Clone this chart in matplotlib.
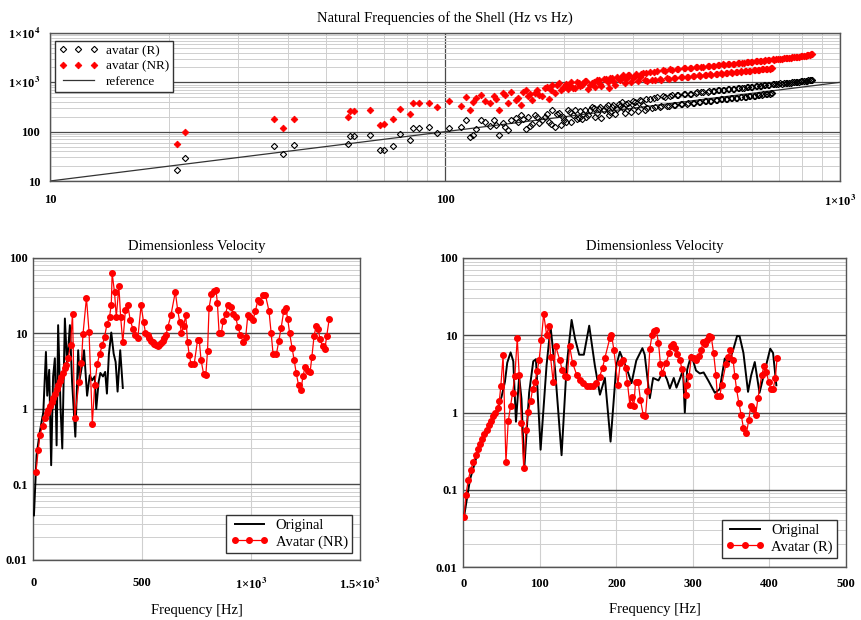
import matplotlib
matplotlib.use('Agg')
import matplotlib.pyplot as plt
from matplotlib.ticker import LogLocator, NullFormatter

# ----------------------------
# Data : natural frequencies (reference vs avatars)
# ----------------------------

nat_freq = [
    21, 22, 36.8, 39, 41.4, 56.7, 57.5, 59, 64.5, 68.4,
    70, 73.8, 76.8, 81.5, 83, 86, 91, 95.7, 102.6, 110,
    113, 116, 118, 120, 123, 126, 130, 133, 135, 137,
    142, 147, 151, 156, 160, 162, 166, 169, 173, 179,
    183, 187, 190, 194, 197, 200, 205, 209, 213, 218,
    222, 226, 230, 235, 240, 245, 249, 255, 260, 264,
    270, 275, 280, 285, 290, 296, 302, 308, 314, 320,
    325, 330, 340, 345, 352, 360, 368, 375, 382, 390,
    398, 405, 412, 420, 428, 435, 442, 450, 458, 465,
    472, 480, 488, 495, 502, 510, 518, 525, 532, 540,
    548, 555, 562, 570, 578, 585, 592, 600, 608, 615,
    622, 630, 638, 645, 652, 660, 665, 672, 675, 690,
    705, 720, 735, 750, 765, 780, 795, 810, 825, 840,
    850,
    140, 144, 153, 158, 164, 171, 176, 181, 185, 192,
    199, 203, 207, 211, 216, 220, 224, 228, 233, 238,
    243, 247, 252, 258, 262, 267, 272, 277, 283, 288,
    293, 299, 305, 311, 317,
    322, 335, 338, 350, 356, 365, 372, 380, 386, 395,
    402, 410, 416, 425, 432, 440, 446, 455, 462, 470,
    476, 485, 492, 500, 506, 515, 522, 530, 536, 545,
    552, 560, 566, 575, 582, 590, 596, 605, 612, 620,
    628, 635, 642, 650, 658, 668, 682, 698, 712, 728,
    742, 758, 772, 788, 802, 818, 832, 845]

avatar_r = [
    17, 29, 51, 35, 53, 56, 81, 81, 86, 42,
    42, 51, 89, 67, 117, 117, 123, 92, 120, 126,
    172, 77, 85, 111, 172, 160, 128, 172, 136, 85,
    126, 172, 190, 217, 111, 195, 140, 217, 150, 195,
    160, 274, 126, 240, 136, 172, 274, 160, 274, 190,
    180, 274, 217, 320, 200, 290, 190, 320, 215, 320,
    225, 370, 405, 240, 380, 250, 400, 260, 420, 270,
    300, 470, 312, 510, 325, 505, 338, 550, 350, 545,
    365, 590, 378, 585, 390, 625, 402, 630, 415, 660,
    428, 665, 440, 700, 452, 700, 465, 740, 478, 740,
    490, 775, 502, 770, 515, 810, 528, 815, 540, 845,
    553, 850, 567, 880, 580, 885, 592, 598, 915, 925,
    950, 955, 985, 985, 1015, 1025, 1050, 1065, 1085, 1095,
    1110,
    150, 110, 160, 180, 130, 200, 170, 225, 145, 230,
    200, 160, 250, 215, 180, 260, 230, 195, 270, 300,
    240, 310, 270, 340, 250, 350, 290, 330, 300, 360,
    310, 410, 330, 430, 350,
    460, 305, 490, 318, 520, 332, 530, 345, 555, 358,
    570, 372, 590, 385, 610, 398, 625, 410, 645, 425,
    660, 436, 685, 450, 705, 462, 725, 475, 735, 488,
    760, 500, 780, 512, 795, 525, 815, 537, 830, 550,
    845, 563, 865, 577, 880, 595, 905, 930, 945, 970,
    985, 1000, 1020, 1035, 1050, 1070, 1090, 1100]

avatar_nr = [
    56, 98, 180, 117, 180, 198, 262, 262, 270, 136,
    145, 180, 287, 227, 380, 390, 390, 311, 417, 330,
    510, 274, 405, 480, 560, 420, 380, 530, 450, 274,
    552, 646, 437, 340, 700, 520, 437, 620, 560, 750,
    450, 900, 620, 970, 700, 820, 720, 1000, 760, 950,
    880, 1050, 720, 980, 800, 1100, 850, 1150, 780, 1200,
    900, 1150, 1300, 950, 1400, 1000, 1350, 1050, 1500, 1100,
    1070, 1620, 1110, 1700, 1140, 1720, 1180, 1820, 1220, 1850,
    1260, 1950, 1290, 1960, 1330, 2060, 1370, 2080, 1410, 2170,
    1440, 2180, 1480, 2280, 1510, 2290, 1550, 2390, 1580, 2400,
    1620, 2500, 1650, 2510, 1690, 2610, 1720, 2620, 1760, 2720,
    1790, 2730, 1830, 2820, 1860, 2840, 1890, 1920, 2930, 2950,
    3040, 3050, 3150, 3170, 3260, 3290, 3400, 3440, 3570, 3640,
    3750,
    600, 390, 480, 650, 580, 700, 520, 800, 690, 870,
    760, 930, 860, 780, 1000, 830, 960, 1080, 870, 1000,
    1120, 940, 1180, 1000, 1250, 1060, 1300, 1120, 1380, 1180,
    1420, 1230, 1480, 1280, 1560,
    1560, 1090, 1650, 1150, 1760, 1200, 1830, 1230, 1880, 1280,
    1940, 1310, 1990, 1350, 2040, 1380, 2080, 1420, 2130, 1460,
    2190, 1490, 2240, 1520, 2300, 1560, 2350, 1590, 2400, 1630,
    2450, 1660, 2500, 1700, 2560, 1730, 2600, 1770, 2660, 1800,
    2700, 1840, 2760, 1870, 2820, 1910, 2880, 2950, 3010, 3080,
    3130, 3200, 3260, 3330, 3400, 3480, 3560, 3690]

ref_x = [10, 1000]
ref_y = [10, 1000]

# ----------------------------
# Data : dimensionless velocity, left (NR)
# ----------------------------

orig1_f = [3, 15, 30, 46, 58, 64, 73, 82, 91, 99,
           107, 114, 125, 133, 145, 155, 168, 178, 193, 206,
           213, 224, 233, 247, 259, 270, 282, 289, 300, 308,
           320, 330, 338, 347, 358, 369, 378, 387, 399, 411]
orig1_v = [0.039, 0.245, 0.5, 0.91, 5.7, 1.5, 3.3, 0.18, 2.7, 4.7,
           0.33, 12.9, 1.07, 0.3, 15.8, 3.8, 12.9, 2.3, 0.43, 6.0,
           2.5, 3.8, 6.0, 1.5, 2.8, 2.4, 2.7, 1.0, 2.3, 3.0,
           2.7, 3.1, 1.6, 5.3, 10.3, 5.4, 4.2, 1.7, 6.0, 1.9]

nr_f = [12, 23, 30, 43, 53, 61, 69, 76, 84, 91,
        99, 107, 114, 122, 129, 137, 145, 152, 160, 171,
        180, 190, 210, 221, 228, 244, 256, 271, 282, 294,
        305, 317, 327, 338, 350, 358, 362, 373, 381, 393,
        401, 411, 423, 434, 445, 457, 469, 480, 495, 506,
        515, 525, 533, 540, 548, 556, 564, 572, 579, 587,
        594, 602, 609, 618, 632, 652, 663, 672, 680, 690,
        700, 708, 716, 724, 739, 754, 762, 770, 782, 792,
        800, 807, 818, 830, 839, 845, 853, 863, 872, 883,
        893, 906, 918, 929, 939, 951, 964, 975, 985, 997,
        1009, 1020, 1031, 1043, 1055, 1066, 1082, 1092, 1101, 1116,
        1127, 1138, 1150, 1159, 1168, 1177, 1188, 1198, 1207, 1218,
        1229, 1238, 1248, 1259, 1271, 1279, 1289, 1298, 1309, 1316,
        1328, 1339, 1347, 1359]
nr_v = [0.147, 0.29, 0.45, 0.6, 0.75, 0.88, 0.96, 1.1, 1.24, 1.4,
        1.6, 1.83, 2.07, 2.34, 2.67, 3.04, 3.44, 3.8, 4.7, 7.1,
        18.4, 0.75, 2.3, 4.1, 9.7, 29.7, 10.5, 0.64, 2.07, 4.0,
        5.4, 7.0, 9.0, 13.2, 16.6, 24, 63, 35, 16.6, 42,
        16.6, 7.6, 20.4, 23.7, 15, 11.6, 9.5, 8.8, 23.7, 14.3,
        10.3, 9.5, 8.6, 8.0, 7.6, 7.2, 7.0, 6.8, 7.0, 7.4,
        7.9, 8.6, 9.5, 12.3, 17.5, 35.6, 20.4, 14.3, 10.2, 12.5,
        17.5, 7.7, 5.2, 4.0, 4.0, 8.1, 8.1, 4.5, 2.9, 2.8,
        5.9, 22, 33, 36.7, 37.5, 25.7, 10.3, 10, 14.7, 18.4,
        23.7, 22.5, 18.4, 16.6, 12.3, 9.5, 7.8, 8.9, 17.5, 16.6,
        15, 20, 27.6, 26, 32, 32, 20, 10.2, 5.3, 5.3,
        7.9, 11.9, 20, 22, 15.7, 10, 6.5, 4.4, 3.0, 2.07,
        1.78, 2.7, 3.6, 3.2, 3.1, 4.9, 9.2, 12.5, 11.3, 8.4,
        6.8, 6.3, 9.2, 15.8]

# ----------------------------
# Data : dimensionless velocity, right (R)
# ----------------------------

orig2_f = [1, 8.7, 21.8, 35, 43.5, 50, 54.4, 57.4, 61.8, 65.3,
           68.8, 73, 76, 79.7, 86, 91.4, 94.9, 101, 108.8, 114,
           120, 128.4, 135, 141.5, 146, 151.4, 157.5, 164.5, 171.8, 178.5,
           185, 192.4, 200, 204.6, 209, 213.6, 219.8, 226, 234, 237,
           243.7, 248, 255, 261, 266, 269.8, 275, 278.5, 284, 287,
           289.4, 292.5, 298, 304, 309, 314, 320, 328.6, 335, 341.6,
           347, 352.5, 357.7, 361, 366, 372, 376, 380.8, 387, 394,
           401, 404.7, 409]
orig2_v = [0.045, 0.135, 0.38, 0.68, 0.98, 1.6, 2.5, 4.4, 6.0, 4.6,
           0.76, 2.9, 1.5, 0.19, 1.8, 4.6, 4.9, 0.33, 4.1, 12.9,
           3.5, 0.28, 4.0, 15.8, 9, 5.6, 5.6, 13.3, 4.1, 1.7,
           2.8, 0.42, 4.1, 6.1, 4.7, 3.7, 2.4, 4.7, 6.8, 5.6,
           1.53, 2.8, 2.6, 3.4, 2.7, 2.05, 2.8, 2.1, 2.9, 3.6,
           1.0, 3.6, 5.6, 3.5, 3.2, 3.3, 2.6, 1.8, 2.0, 5.0,
           4.5, 6.4, 9.8, 9.7, 5.9, 1.85, 3.0, 4.5, 1.8, 3.5,
           6.7, 5.9, 2.25]

r_f = [1, 3.5, 6.5, 9.6, 13, 16, 19, 21.8, 24.8, 27.4,
       30.5, 33.5, 36, 39, 42, 45, 47, 49, 52, 55.7,
       58.7, 61.8, 64.4, 67.4, 70.5, 73, 76, 79, 81.8, 85,
       88, 90.5, 93.6, 96.6, 99, 102, 105, 108.8, 112, 114,
       117.5, 120.5, 126, 129, 132.7, 135.8, 139, 142.7, 148, 152,
       156.6, 161, 165, 170, 174, 178, 182, 185, 191.5, 193.6,
       196.7, 202, 205, 209, 212, 214.5, 217.6, 219.8, 222.8, 225,
       228.5, 231.5, 235, 238, 240.6, 243.7, 246.7, 249, 252, 255,
       257.6, 260, 265, 269, 271.5, 274, 277, 279, 283, 285.5,
       290.7, 292.4, 295, 298, 301, 304.6, 308, 311, 313, 316,
       318.5, 321, 324, 327, 330, 332, 335, 337.7, 343, 346,
       349, 352.5, 354.7, 357, 360, 363, 366, 370, 373, 375.5,
       378.6, 382, 385, 390, 393, 396, 399, 401.6, 404.7, 407.7,
       410]
r_v = [0.045, 0.086, 0.135, 0.18, 0.226, 0.284, 0.337, 0.39, 0.45, 0.53,
       0.6, 0.68, 0.78, 0.89, 1.0, 1.14, 1.4, 2.18, 5.5, 0.226,
       0.77, 1.23, 1.8, 3.0, 9.2, 3.1, 0.73, 0.19, 0.6, 1.03,
       1.42, 2.0, 2.5, 3.4, 4.8, 8.8, 19, 10.2, 13, 5.2,
       2.45, 7.3, 4.8, 3.6, 3.0, 2.9, 7.2, 4.4, 3.1, 2.66,
       2.4, 2.22, 2.18, 2.22, 2.4, 2.9, 3.8, 5.1, 9.2, 10.2,
       6.5, 2.3, 4.4, 4.8, 3.8, 2.4, 1.26, 1.6, 1.2, 2.5,
       2.5, 1.44, 0.94, 0.89, 1.88, 6.7, 10.2, 11.3, 11.8, 8.0,
       4.2, 3.25, 4.4, 5.9, 7.2, 7.6, 6.9, 5.8, 4.8, 3.7,
       1.7, 2.3, 2.94, 5.3, 5.1, 4.8, 5.4, 6.5, 8.1, 7.6,
       8.8, 9.7, 9.5, 5.9, 3.1, 1.62, 1.62, 2.3, 4.2, 5.3,
       6.5, 4.8, 3.0, 2.0, 1.33, 0.94, 0.63, 0.54, 0.81, 1.2,
       1.1, 0.94, 1.54, 3.1, 4.0, 3.3, 2.5, 2.0, 2.0, 2.8,
       5.1]

vel_ticks = [0.01, 0.1, 1, 10, 100]
vel_labels = ['0.01', '0.1', '1', '10', '100']

# ----------------------------
# Figure setup
# ----------------------------

plt.rcParams['font.family'] = ['Liberation Serif', 'DejaVu Serif']
plt.rcParams['mathtext.fontset'] = 'stix'

fig = plt.figure(figsize=(8.62, 6.2), dpi=100)

ax1 = fig.add_axes([50 / 862, 1 - 181 / 620, 790 / 862, 148 / 620])
ax2 = fig.add_axes([33.3 / 862, 1 - 560 / 620, 326.7 / 862, 302 / 620])
ax3 = fig.add_axes([463.3 / 862, 1 - 567 / 620, 382.7 / 862, 309 / 620])

MAJOR = '#4a4a4a'
MINOR = '#cfcfcf'


def frame(ax):
    for s in ax.spines.values():
        s.set_color('#555555')
        s.set_linewidth(1.0)
    ax.tick_params(which='both', length=0, labelsize=9)
    ax.set_axisbelow(True)


def bold_labels(ax):
    for lab in ax.get_xticklabels() + ax.get_yticklabels():
        lab.set_fontweight('bold')


# ----------------------------
# Top : natural frequencies
# ----------------------------

ax1.set_xscale('log')
ax1.set_yscale('log')
ax1.plot(ref_x, ref_y, color='#333333', lw=0.9, label='reference', zorder=2)
ax1.plot(nat_freq, avatar_r, ls='none', marker='D', ms=3.2, mfc='none',
         mec='black', mew=0.8, label='avatar (R)', zorder=3)
ax1.plot(nat_freq, avatar_nr, ls='none', marker='D', ms=3.4, mfc='red',
         mec='red', mew=0.6, label='avatar (NR)', zorder=3)
ax1.set_xlim(10, 1000)
ax1.set_ylim(10, 1e4)
ax1.xaxis.set_minor_locator(LogLocator(base=10, subs=range(2, 10)))
ax1.yaxis.set_minor_locator(LogLocator(base=10, subs=range(2, 10)))
ax1.xaxis.set_minor_formatter(NullFormatter())
ax1.yaxis.set_minor_formatter(NullFormatter())
ax1.set_xticks([10, 100, 1000], ['10', '100', r'1×10$^{\mathbf{3}}$'])
ax1.set_yticks([10, 100, 1000, 1e4],
               ['10', '100', r'1×10$^{\mathbf{3}}$', r'1×10$^{\mathbf{4}}$'])
ax1.grid(which='major', color=MAJOR, lw=0.9)
ax1.grid(which='minor', color=MINOR, lw=0.7)
frame(ax1)
ax1.tick_params(axis='x', pad=9)
ax1.tick_params(axis='y', pad=7)
bold_labels(ax1)
ax1.set_title('Natural Frequencies of the Shell (Hz vs Hz)', fontsize=10.5, pad=8)

h, l = ax1.get_legend_handles_labels()
leg1 = ax1.legend([h[1], h[2], h[0]], [l[1], l[2], l[0]], loc='upper left',
                  bbox_to_anchor=(0.006, 0.948), numpoints=3, fontsize=9.5,
                  fancybox=False, edgecolor='#333333', framealpha=1,
                  handlelength=3.0, borderpad=0.3, labelspacing=0.25,
                  handletextpad=0.6, borderaxespad=0)
leg1.get_frame().set_linewidth(1.0)

# ----------------------------
# Bottom : dimensionless velocity
# ----------------------------

panels = [
    (ax2, orig1_f, orig1_v, nr_f, nr_v, 'Avatar (NR)', 1500,
     [0, 500, 1000, 1500], ['0', '500', r'1×10$^{\mathbf{3}}$', r'1.5×10$^{\mathbf{3}}$'],
     (0.976, 0.023), 12),
    (ax3, orig2_f, orig2_v, r_f, r_v, 'Avatar (R)', 500,
     [0, 100, 200, 300, 400, 500], ['0', '100', '200', '300', '400', '500'],
     (0.977, 0.029), 8),
]

for ax, of, ov, af, av, alab, xmax, xt, xtl, anchor, xpad in panels:
    ax.set_yscale('log')
    ax.plot(of, ov, color='black', lw=1.4, label='Original', zorder=3)
    ax.plot(af, av, color='red', lw=0.9, marker='o', ms=4, mfc='red',
            mec='red', label=alab, zorder=4)
    ax.set_xlim(0, xmax)
    ax.set_ylim(0.01, 100)
    ax.yaxis.set_minor_locator(LogLocator(base=10, subs=range(2, 10)))
    ax.yaxis.set_minor_formatter(NullFormatter())
    ax.set_xticks(xt, xtl)
    ax.set_yticks(vel_ticks, vel_labels)
    ax.grid(axis='x', which='major', color=MINOR, lw=0.8)
    ax.grid(axis='y', which='major', color=MAJOR, lw=1.0)
    ax.grid(axis='y', which='minor', color=MINOR, lw=0.7)
    frame(ax)
    ax.tick_params(axis='x', pad=xpad)
    ax.tick_params(axis='y', pad=4)
    bold_labels(ax)
    ax.set_title('Dimensionless Velocity', fontsize=10.5, pad=6)
    ax.set_xlabel('Frequency [Hz]', fontsize=10.5, labelpad=9)
    leg = ax.legend(loc='lower right', bbox_to_anchor=anchor, numpoints=3,
                    fontsize=10.5, fancybox=False, edgecolor='#333333',
                    framealpha=1, handlelength=2.6, borderpad=0.3,
                    labelspacing=0.2, handletextpad=0.5, borderaxespad=0)
    leg.get_frame().set_linewidth(1.0)

plt.savefig('out.png', dpi=100)
plt.close()
